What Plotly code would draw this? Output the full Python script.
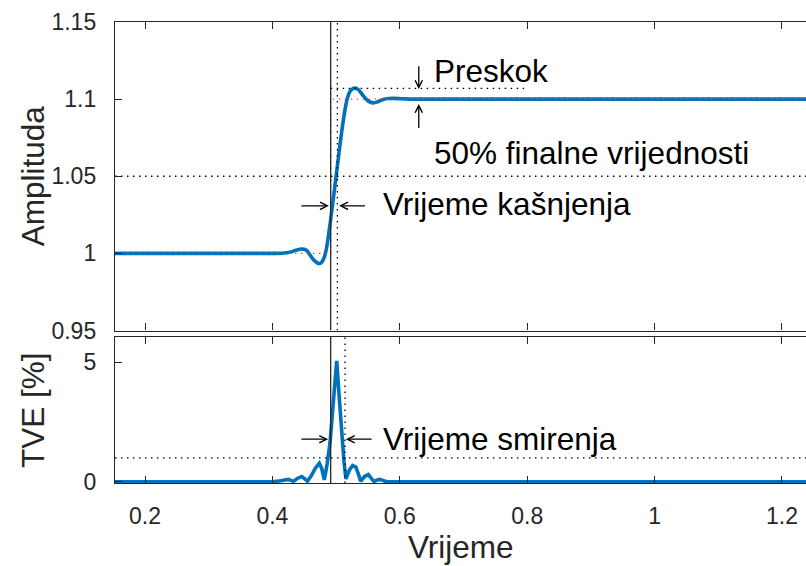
import plotly.graph_objects as go

# ---------------- data ----------------
t_amp = [0.1529, 0.40, 0.415, 0.4276, 0.437, 0.446, 0.453, 0.459, 0.466, 0.4732,
         0.4775, 0.4815, 0.4850, 0.4880, 0.4910, 0.4940, 0.4970, 0.5000, 0.5030,
         0.5060, 0.5090, 0.5120, 0.5150, 0.5180, 0.5215, 0.5255, 0.5297, 0.5345,
         0.5427, 0.5505, 0.5584, 0.5665, 0.5741, 0.582, 0.59, 0.605, 0.625, 1.2377]
amp = [1.0, 1.0, 1.0001, 1.0007, 1.0020, 1.0028, 1.0021, 0.9990, 0.9953, 0.9934,
       0.9943, 0.9975, 1.0035, 1.0115, 1.0205, 1.0300, 1.0400, 1.0500, 1.0600,
       1.0700, 1.0795, 1.0880, 1.0955, 1.1010, 1.1048, 1.1066, 1.1071, 1.1063,
       1.1021, 1.0987, 1.0976, 1.0985, 1.0998, 1.1004, 1.1005, 1.1002, 1.1, 1.1]

t_tve = [0.1529, 0.40, 0.413, 0.420, 0.425, 0.430, 0.433, 0.439, 0.446, 0.451, 0.455,
         0.461, 0.467, 0.4737, 0.4775, 0.4815, 0.486, 0.4905, 0.496, 0.501, 0.505,
         0.5088, 0.5125, 0.5155, 0.521, 0.526, 0.531, 0.535, 0.5386, 0.5445, 0.5506,
         0.555, 0.5595, 0.5645, 0.569, 0.575, 0.58, 1.2377]
tve = [0.0, 0.0, 0.04, 0.09, 0.10, 0.05, 0.02, 0.14, 0.22, 0.12, 0.03,
       0.25, 0.55, 0.78, 0.55, 0.08, 0.75, 1.65, 3.40, 5.05, 3.50,
       1.90, 0.80, 0.12, 0.50, 0.68, 0.62, 0.32, 0.02, 0.22, 0.30,
       0.15, 0.01, 0.08, 0.10, 0.04, 0.0, 0.0]

x_range = [0.1529, 1.2377]
x_ticks = [0.2, 0.4, 0.6, 0.8, 1.0, 1.2]
x_ticklabels = ["0.2", "0.4", "0.6", "0.8", "1", "1.2"]
amp_range = [0.95, 1.15]
amp_ticks = [0.95, 1.0, 1.05, 1.1, 1.15]
amp_ticklabels = ["0.95", "1", "1.05", "1.1", "1.15"]
tve_range = [-0.05, 6.05]
tve_ticks = [0, 5]
tve_ticklabels = ["0", "5"]

t_step = 0.4915          # ideal step instant (solid vertical)
t_half = 0.502           # 50 % of final value crossing (dotted vertical, top)
t_settle = 0.514         # settling instant (dotted vertical, bottom)
amp_initial = 1.0
amp_final = 1.1
amp_half = 1.05
amp_peak = 1.107
t_peak_line_end = 0.80
tve_limit = 1.0

# ---------------- style ----------------
BLUE = "#0072BD"
ORANGE = "#D95319"
AX = "#262626"
FONT = "Liberation Sans, Arial, Helvetica, sans-serif"
DOT = "1.5px,4.5px"

fig = go.Figure()

# top panel
fig.add_trace(go.Scatter(x=t_amp, y=amp, mode="lines", xaxis="x", yaxis="y",
                         line=dict(color=BLUE, width=3.6, shape="spline"), hoverinfo="skip"))
fig.add_trace(go.Scatter(x=[x_range[0], t_step, t_step, x_range[1]],
                         y=[amp_initial, amp_initial, amp_final, amp_final],
                         mode="lines", xaxis="x", yaxis="y",
                         line=dict(color=ORANGE, width=1.4, dash=DOT), hoverinfo="skip"))
fig.add_trace(go.Scatter(x=list(x_range), y=[amp_half, amp_half], mode="lines", xaxis="x", yaxis="y",
                         line=dict(color="black", width=1.3, dash=DOT), hoverinfo="skip"))
fig.add_trace(go.Scatter(x=[t_step, t_peak_line_end], y=[amp_peak, amp_peak], mode="lines",
                         xaxis="x", yaxis="y",
                         line=dict(color="black", width=1.3, dash=DOT), hoverinfo="skip"))
fig.add_trace(go.Scatter(x=[t_half, t_half], y=amp_range, mode="lines", xaxis="x", yaxis="y",
                         line=dict(color="black", width=1.3, dash=DOT), hoverinfo="skip"))
fig.add_trace(go.Scatter(x=[t_step, t_step], y=amp_range, mode="lines", xaxis="x", yaxis="y",
                         line=dict(color=AX, width=1.3), hoverinfo="skip"))

# bottom panel
fig.add_trace(go.Scatter(x=t_tve, y=tve, mode="lines", xaxis="x2", yaxis="y2",
                         line=dict(color=BLUE, width=3.6), hoverinfo="skip"))
fig.add_trace(go.Scatter(x=list(x_range), y=[tve_limit, tve_limit], mode="lines", xaxis="x2", yaxis="y2",
                         line=dict(color="black", width=1.3, dash=DOT), hoverinfo="skip"))
fig.add_trace(go.Scatter(x=[t_settle, t_settle], y=tve_range, mode="lines", xaxis="x2", yaxis="y2",
                         line=dict(color="black", width=1.3, dash=DOT), hoverinfo="skip"))
fig.add_trace(go.Scatter(x=[t_step, t_step], y=tve_range, mode="lines", xaxis="x2", yaxis="y2",
                         line=dict(color=AX, width=1.3), hoverinfo="skip"))

tickfont = dict(family=FONT, size=23, color=AX)
common_x = dict(range=x_range, tickvals=x_ticks, ticktext=x_ticklabels, showgrid=False,
                zeroline=False, showline=True, linecolor=AX, linewidth=1.4, mirror="ticks",
                ticks="inside", ticklen=7, tickwidth=1.3, tickcolor=AX, tickfont=tickfont)
common_y = dict(showgrid=False, zeroline=False, showline=True, linecolor=AX, linewidth=1.4,
                mirror=False, ticks="inside", ticklen=7, tickwidth=1.3, tickcolor=AX,
                tickfont=tickfont, ticklabelstandoff=13)

fig.update_layout(
    width=806, height=566,
    margin=dict(l=115, r=0, t=22, b=83),
    paper_bgcolor="white", plot_bgcolor="white",
    showlegend=False,
    xaxis=dict(anchor="y", matches="x2", showticklabels=False, **common_x),
    xaxis2=dict(anchor="y2", ticklabelstandoff=12, **common_x),
    yaxis=dict(domain=[0.3308, 1.0], anchor="x", range=amp_range, tickvals=amp_ticks,
               ticktext=amp_ticklabels, **common_y),
    yaxis2=dict(domain=[0.0, 0.3167], anchor="x2", range=tve_range, tickvals=tve_ticks,
                ticktext=tve_ticklabels, **common_y),
)

ann_font = dict(family=FONT, size=31.5, color="black")
title_font = dict(family=FONT, size=31.5, color=AX)

def arrow(xref, yref, x_head, y_head, x_tail, y_tail):
    fig.add_annotation(x=x_head, y=y_head, ax=x_tail, ay=y_tail, xref=xref, yref=yref,
                       axref=xref, ayref=yref, text="", showarrow=True, arrowhead=5,
                       arrowsize=1.1, arrowwidth=1.3, arrowcolor="black",
                       standoff=0, startstandoff=0)

# Preskok arrows
arrow("x", "y", 0.6298, 1.1065, 0.6298, 1.1223)
arrow("x", "y", 0.6298, 1.0969, 0.6298, 1.0803)
# Vrijeme kasnjenja arrows
arrow("x", "y", 0.4886, 1.0308, 0.4431, 1.0308)
arrow("x", "y", 0.5048, 1.0308, 0.5478, 1.0308)
# Vrijeme smirenja arrows
arrow("x2", "y2", 0.4875, 1.78, 0.4431, 1.78)
arrow("x2", "y2", 0.5153, 1.78, 0.5581, 1.78)

def label(xref, yref, x, y, text):
    fig.add_annotation(x=x, y=y, xref=xref, yref=yref, text=text, showarrow=False,
                       xanchor="left", yanchor="middle", font=ann_font)

label("x", "y", 0.650, 1.118, "Preskok")
label("x", "y", 0.650, 1.0653, "50% finalne vrijednosti")
label("x", "y", 0.571, 1.0320, "Vrijeme kašnjenja")
label("x2", "y2", 0.570, 1.80, "Vrijeme smirenja")

# axis titles
fig.add_annotation(x=0, y=1.15 - (177 - 22) / 1550, xref="paper", yref="y", text="Amplituda",
                   textangle=-90, showarrow=False, xanchor="center", yanchor="middle",
                   xshift=-82, font=title_font)
fig.add_annotation(x=0, y=0.5, xref="paper", yref="y2 domain", text="TVE [%]",
                   textangle=-90, showarrow=False, xanchor="center", yanchor="middle",
                   xshift=-82, font=title_font)
fig.add_annotation(x=0.5, y=0, xref="paper", yref="paper", text="Vrijeme",
                   showarrow=False, xanchor="center", yanchor="middle",
                   yshift=-64, font=title_font)

fig.write_html("out.html")
